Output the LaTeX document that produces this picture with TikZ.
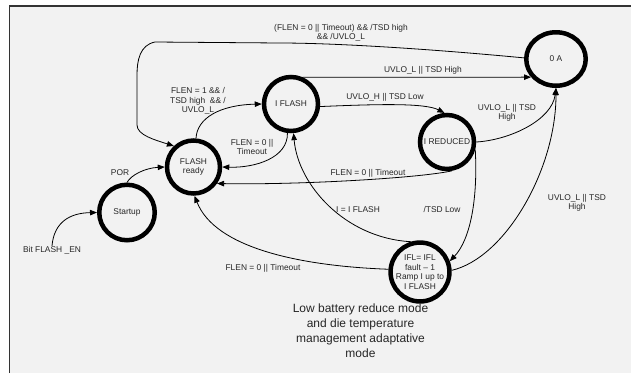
\documentclass[tikz,border=0pt]{standalone}
\usepackage{fontspec}
\setmainfont{Liberation Sans}
\usetikzlibrary{arrows.meta,shapes.geometric}
\definecolor{bgc}{HTML}{F2F2F2}
\definecolor{txt}{HTML}{262626}
\begin{document}
\begin{tikzpicture}[x=1pt,y=-1pt,
  st/.style={circle,draw,line width=4.5pt,minimum size=54pt,inner sep=0pt,align=center,font=\fontsize{8.4}{9.5}\selectfont,text=txt},
  lbl/.style={inner sep=0pt,align=center,font=\fontsize{8.4}{9.5}\selectfont,text=txt},
  big/.style={inner sep=0pt,align=center,font=\fontsize{12}{15}\selectfont,text=txt},
  ed/.style={line width=0.8pt,-{Triangle[length=7pt,width=5.5pt]}}]
\useasboundingbox (0,0) rectangle (631,373);
\fill[white] (0,0) rectangle (631,373);
\fill[bgc] (9.5,6) rectangle (631,373);
\draw[line width=1.4pt,black!80] (9.5,373) -- (9.5,6) -- (631,6);

% states
\node[st,ellipse,minimum width=59.5pt,minimum height=53.5pt] (zeroA) at (556,59) {0 A};
\node[st] (iflash) at (291,104) {I FLASH};
\node[st,minimum size=53pt] (flash) at (193.5,167) {FLASH\\ready};
\node[st,minimum size=55.5pt] (start) at (127,212.5) {Startup};
\node[st] (ired) at (447,142) {I REDUCED};
\node[st,minimum size=56pt] (ifl) at (420,272) {IFL= IFL\\fault -- 1\\Ramp I up to\\I FLASH};

% labels
\node[lbl] (bit) at (52,250) {Bit FLASH \_EN};
\node[lbl] (lpor) at (120,173) {POR};
\node[lbl] (l1) at (198,101) {FLEN = 1 \&\& /\\TSD high \ \&\& /\\UVLO\_L};
\node[lbl] (l2) at (252,147) {FLEN = 0 ||\\Timeout};
\node[lbl] (l3) at (341,33) {(FLEN = 0 || Timeout) \&\& /TSD high\\\&\& /UVLO\_L};
\node[lbl] (l4) at (423,70) {UVLO\_L || TSD High};
\node[lbl] (l5) at (385,97) {UVLO\_H || TSD Low};
\node[lbl] (l6) at (507,113) {UVLO\_L || TSD\\High};
\node[lbl] (l7) at (368,173) {FLEN = 0 || Timeout};
\node[lbl] (l8) at (358,210) {I = I FLASH};
\node[lbl] (l9) at (442,209) {/TSD Low};
\node[lbl] (l10) at (577,203) {UVLO\_L || TSD\\High};
\node[lbl] (l11) at (263,268) {FLEN = 0 || Timeout};
\node[big] (note) at (360.5,331) {Low battery reduce mode\\and die temperature\\management adaptative\\mode};

% edges
\draw[ed] (bit.north) .. controls (54,222) and (70,213) .. (start.west);
\draw[ed] (start.north) .. controls (131,175) and (145,168) .. (flash.west);
\draw[ed] (flash.85) .. controls (197,118) and (220,105) .. (iflash.west);
\draw[ed] (iflash.-97) .. controls (288,158) and (255,168) .. (flash.east);
\draw[ed] (iflash.66) -- (zeroA.216);
\draw[ed] (iflash.-5) .. controls (380,104) and (425,103) .. (ired.95);
\draw[ed] (ired.east) .. controls (510,140) and (552,120) .. (zeroA.south);
\draw[ed] (ired.-80) .. controls (420,178) and (300,185) .. (flash.-35);
\draw[ed] (ired.-15) .. controls (478,200) and (470,240) .. (ifl.20);
\draw[ed] (ifl.3) .. controls (505,258) and (556,170) .. (zeroA.south);
\draw[ed] (ifl.107) .. controls (345,238) and (298,185) .. (iflash.-85);
\draw[ed] (ifl.175) .. controls (300,266) and (215,248) .. (flash.-88);
\draw[ed] (zeroA.178) .. controls (420,48) and (330,43) .. (280,43) -- (155,42)
  .. controls (140,45) and (137,60) .. (137,75) -- (137,125)
  .. controls (137,135) and (155,140) .. (flash.133);
\end{tikzpicture}
\end{document}
